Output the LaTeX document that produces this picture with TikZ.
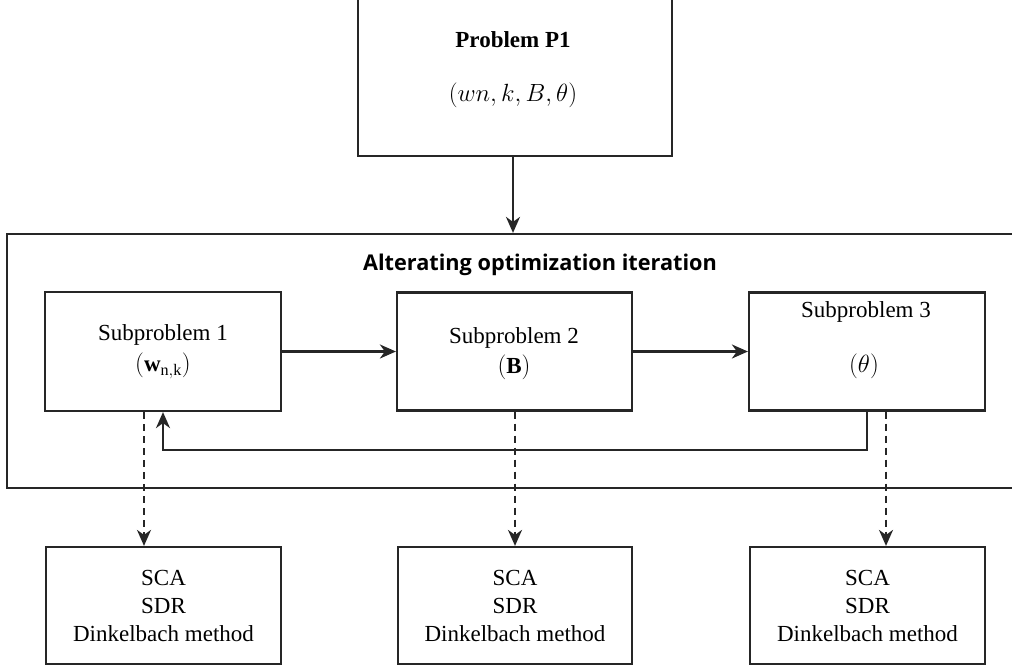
\documentclass[tikz,border=0pt]{standalone}
\usepackage{fontspec}
\setmainfont{Liberation Serif}
\newfontfamily\titlefont{Open Sans}
\usetikzlibrary{arrows.meta}
\definecolor{edge}{HTML}{262626}
\tikzset{
  box/.style={draw=edge, line width=2.2pt, fill=white, inner sep=0pt},
  conn/.style={draw=edge, line width=2.2pt, -{Stealth[length=16pt,width=14pt,inset=5pt]}},
  dconn/.style={conn, dash pattern=on 7pt off 5pt},
  txt/.style={font=\fontsize{23}{28}\selectfont, inner sep=0pt, align=center}
}
\begin{document}
\begin{tikzpicture}[x=1pt,y=-1pt]
\useasboundingbox (0,0) rectangle (1012,670);
% top problem box
\node[box, minimum width=314pt, minimum height=158pt] (p1) at (515,77) {};
\node[txt] (p1t) at (513,40) {\textbf{Problem P1}};
\node[txt] (p1m) at (513,95) {$(wn,k,B,\theta)$};
% outer iteration box
\node[box, minimum width=1012pt, minimum height=254pt] (outer) at (513,361) {};
\node[txt, font=\titlefont\bfseries\fontsize{21.7}{26}\selectfont] (title) at (540,265) {Alterating optimization iteration};
% subproblems
\node[box, minimum width=236pt, minimum height=119pt] (s1) at (163,351.5) {};
\node[box, minimum width=235pt, minimum height=118pt] (s2) at (514.5,351.5) {};
\node[box, minimum width=236pt, minimum height=118pt] (s3) at (867,351.5) {};
\node[txt] (s1a) at (163,335) {Subproblem 1};
\node[txt] (s1b) at (163,366) {$(\mathbf{w}_{\scriptstyle\mathrm{n,k}})$};
\node[txt] (s2a) at (514,338) {Subproblem 2};
\node[txt] (s2b) at (514,367) {$(\mathbf{B})$};
\node[txt] (s3a) at (866,312) {Subproblem 3};
\node[txt] (s3b) at (864,366) {$(\theta)$};
% method boxes
\node[box, txt, minimum width=235pt, minimum height=117pt] (b1) at (163.5,605.5) {SCA\\SDR\\Dinkelbach method};
\node[box, txt, minimum width=234pt, minimum height=117pt] (b2) at (515,605.5) {SCA\\SDR\\Dinkelbach method};
\node[box, txt, minimum width=235pt, minimum height=117pt] (b3) at (867.5,605.5) {SCA\\SDR\\Dinkelbach method};
% connectors
\draw[conn] (p1.south -| 513,0) -- (outer.north -| 513,0);
\draw[conn] (s1.east) -- (s2.west);
\draw[conn] (s2.east) -- (s3.west);
\coordinate (f1) at (867,450);
\coordinate (f2) at (163,450);
\draw[conn] (s3.south -| f1) -- (f1) -- (f2) -- (s1.south -| f2);
\coordinate (d1) at (144,0);
\coordinate (d2) at (515,0);
\coordinate (d3) at (886,0);
\draw[dconn] (s1.south -| d1) -- (b1.north -| d1);
\draw[dconn] (s2.south -| d2) -- (b2.north -| d2);
\draw[dconn] (s3.south -| d3) -- (b3.north -| d3);
\end{tikzpicture}
\end{document}
